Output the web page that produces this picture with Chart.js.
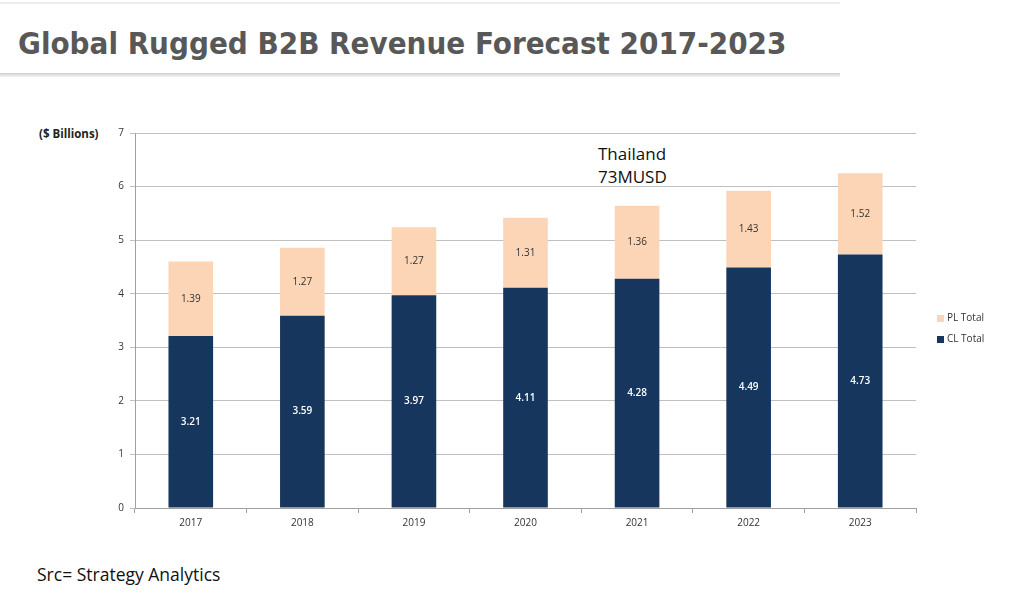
<!DOCTYPE html>
<html>
<head>
<meta charset="utf-8">
<script src="https://cdn.jsdelivr.net/npm/chart.js@4/dist/chart.umd.min.js"></script>
<style>
  html, body { margin: 0; padding: 0; background: #fff; }
  body { width: 1024px; height: 598px; position: relative; overflow: hidden; font-family: 'Open Sans', sans-serif; }
  .topline { position: absolute; left: 0; top: 2px; width: 840px; height: 2px; background: #ececec; }
  .title {
    position: absolute; left: 18px; top: 25px; margin: 0;
    font-family: 'DejaVu Sans Condensed', 'DejaVu Sans', sans-serif; font-weight: bold;
    font-size: 31px; color: #585858; white-space: nowrap;
  }
  .rule {
    position: absolute; left: 0; top: 73px; width: 840px; height: 4px;
    background: linear-gradient(#d0d0d0, #f4f4f4);
  }
  .unit { position: absolute; left: 39px; top: 126px; font: bold 11.5px 'Open Sans', sans-serif; color: #222; }
  .note { position: absolute; left: 598px; top: 142px; font: 17px 'Open Sans', sans-serif; color: #111; line-height: 23px; }
  .src { position: absolute; left: 37px; top: 562px; font: 17.5px 'Open Sans', sans-serif; color: #111; }
  #wrap { position: absolute; left: 0; top: 100px; width: 1024px; height: 440px; }
</style>
</head>
<body>
<div class="topline"></div>
<h1 class="title">Global Rugged B2B Revenue Forecast 2017-2023</h1>
<div class="rule"></div>
<div class="unit">($ Billions)</div>
<div class="note">Thailand<br>73MUSD</div>
<div class="src">Src= Strategy Analytics</div>
<div id="wrap"><canvas id="chart"></canvas></div>
<script>
const years = ['2017', '2018', '2019', '2020', '2021', '2022', '2023']
const clTotal = [3.21, 3.59, 3.97, 4.11, 4.28, 4.49, 4.73]
const plTotal = [1.39, 1.27, 1.27, 1.31, 1.36, 1.43, 1.52]

// value labels inside each bar segment
const barLabels = {
  id: 'barLabels',
  afterDatasetsDraw(chart) {
    const ctx = chart.ctx
    ctx.save()
    ctx.textAlign = 'center'
    ctx.textBaseline = 'middle'
    chart.data.datasets.forEach((ds, i) => {
      const meta = chart.getDatasetMeta(i)
      ctx.font = (i === 0 ? '600 ' : '') + '10px "Open Sans", sans-serif'
      ctx.fillStyle = i === 0 ? '#ffffff' : '#333333'
      meta.data.forEach((bar, j) => {
        const mid = (bar.y + bar.base) / 2
        ctx.fillText(ds.data[j].toFixed(2), bar.x, mid)
      })
    })
    ctx.restore()
  }
}

// small legend to the right of the plot, PL above CL like Excel
const sideLegend = {
  id: 'sideLegend',
  afterDraw(chart) {
    const { ctx, chartArea } = chart
    const x = chartArea.right + 21
    const mid = (chartArea.top + chartArea.bottom) / 2
    const items = chart.data.datasets.slice().reverse()
    ctx.save()
    ctx.font = '10px "Open Sans", sans-serif'
    ctx.textBaseline = 'middle'
    items.forEach((ds, k) => {
      const y = mid - 2 + k * 21
      ctx.fillStyle = ds.backgroundColor
      ctx.fillRect(x, y - 3.5, 7, 7)
      ctx.fillStyle = '#333'
      ctx.fillText(ds.label, x + 10, y)
    })
    ctx.restore()
  }
}

new Chart(document.getElementById('chart'), {
  type: 'bar',
  data: {
    labels: years,
    datasets: [
      { label: 'CL Total', data: clTotal, backgroundColor: '#17365d' },
      { label: 'PL Total', data: plTotal, backgroundColor: '#fbd5b5' }
    ]
  },
  options: {
    responsive: true,
    maintainAspectRatio: false,
    animation: false,
    layout: { padding: { top: 33, left: 0, right: 108, bottom: 0 } },
    datasets: { bar: { barPercentage: 0.4, categoryPercentage: 1 } },
    plugins: {
      legend: { display: false },
      tooltip: { enabled: false }
    },
    scales: {
      x: {
        stacked: true,
        grid: { drawOnChartArea: false, color: '#a0a0a0', tickLength: 5 },
        border: { color: '#a0a0a0' },
        ticks: { color: '#333', font: { family: 'Open Sans', size: 10 }, padding: 4 },
        afterFit(scale) { scale.height = 32 }
      },
      y: {
        stacked: true,
        min: 0, max: 7,
        grid: { color: '#c0c0c0', tickLength: 5 },
        border: { color: '#a0a0a0' },
        ticks: { stepSize: 1, color: '#333', font: { family: 'Open Sans', size: 10 }, padding: 6 },
        afterFit(scale) { scale.width = 135 }
      }
    }
  },
  plugins: [barLabels, sideLegend]
})
</script>
</body>
</html>
